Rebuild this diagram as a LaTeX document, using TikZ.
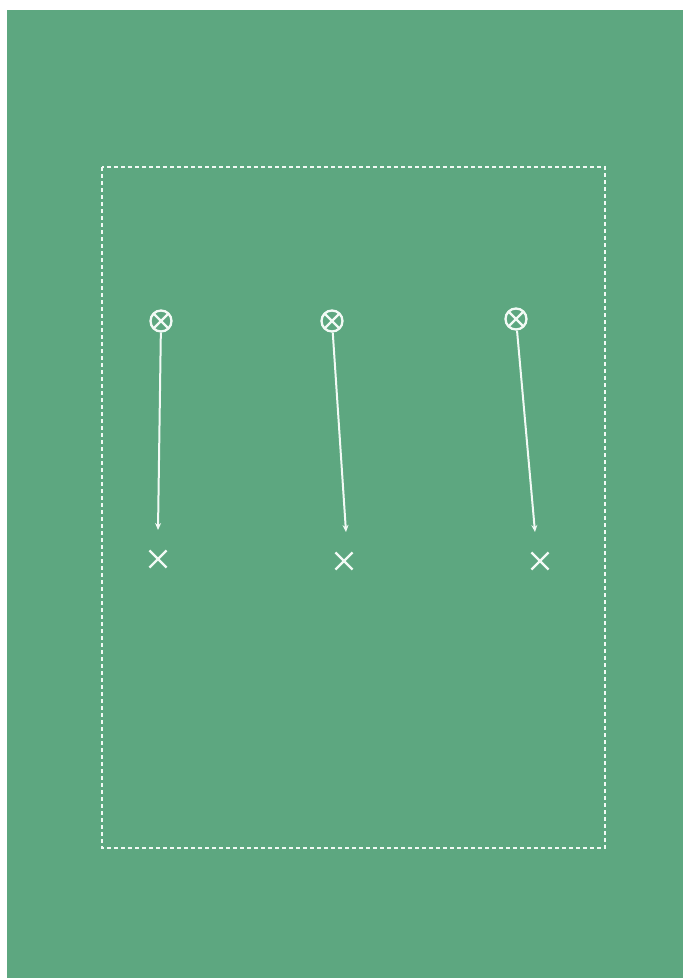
\documentclass[tikz,border=0pt]{standalone}
\usetikzlibrary{shapes.misc,arrows.meta}
\definecolor{bggreen}{RGB}{93,167,128}
\definecolor{chalk}{RGB}{242,250,245}
\tikzset{
  player/.style={circle,draw=chalk,line width=2.3pt,minimum size=21pt,inner sep=0pt,
    path picture={\draw[chalk,line width=2.2pt]
      ([shift={(-8pt,-8pt)}]path picture bounding box.center)--([shift={(8pt,8pt)}]path picture bounding box.center)
      ([shift={(-8pt,8pt)}]path picture bounding box.center)--([shift={(8pt,-8pt)}]path picture bounding box.center);}},
  target/.style={cross out,draw=chalk,line width=2.2pt,minimum size=15pt,inner sep=0pt},
  run/.style={chalk,line width=2pt,-{Stealth[length=7pt,width=6pt]}},
  area/.style={chalk,line width=1.6pt,dash pattern=on 4pt off 3pt}
}
\begin{document}
\begin{tikzpicture}[x=1pt,y=-1pt]
\useasboundingbox (0,0) rectangle (683,978);
\fill[white] (0,0) rectangle (683,978);
\fill[bggreen] (7,10) rectangle (683,978);
\draw[area] (102,167) rectangle (605,848);
\node[player] (p1) at (161,321) {};
\node[player] (p2) at (332,321) {};
\node[player] (p3) at (516,319) {};
\node[target] (t1) at (158,559) {};
\node[target] (t2) at (344,561) {};
\node[target] (t3) at (540,561) {};
\coordinate (e1) at (158,530);
\coordinate (e2) at (346,532);
\coordinate (e3) at (535,532);
\draw[run] (p1) -- (e1);
\draw[run] (p2) -- (e2);
\draw[run] (p3) -- (e3);
\end{tikzpicture}
\end{document}
